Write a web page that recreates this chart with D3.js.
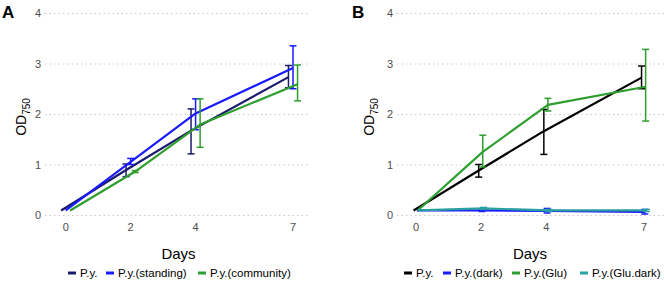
<!DOCTYPE html>
<html>
<head>
<meta charset="utf-8">
<script src="https://cdn.jsdelivr.net/npm/d3@7"></script>
<style>
  body{margin:0;background:#fff;}
  svg text{font-family:"Liberation Sans",Arial,sans-serif;}
</style>
</head>
<body>
<svg id="chart" width="664" height="281"></svg>
<script>
/* ----- data ------------------------------------------------- */
const days = [0, 2, 4, 7];
const yTicks = [0, 1, 2, 3, 4];

// panel A
const seriesA = ['P.y.', 'P.y.(standing)', 'P.y.(community)'];
const meanA = [
  [0.10, 0.90, 1.68, 2.74],
  [0.10, 1.06, 2.02, 2.92],
  [0.10, 0.87, 1.80, 2.60]
];
const lowA = [
  [0.10, 0.77, 1.22, 2.53],
  [0.10, 1.01, 1.70, 2.51],
  [0.10, 0.85, 1.35, 2.27]
];
const highA = [
  [0.10, 1.02, 2.11, 2.97],
  [0.10, 1.13, 2.31, 3.36],
  [0.10, 0.89, 2.31, 2.98]
];

// panel B
const seriesB = ['P.y.', 'P.y.(dark)', 'P.y.(Glu)', 'P.y.(Glu.dark)'];
const meanB = [
  [0.10, 0.89, 1.67, 2.73],
  [0.10, 0.10, 0.09, 0.07],
  [0.10, 1.26, 2.19, 2.55],
  [0.10, 0.14, 0.10, 0.10]
];
const lowB = [
  [0.10, 0.76, 1.21, 2.51],
  [0.10, 0.08, 0.05, 0.03],
  [0.10, 0.96, 2.07, 1.87],
  [0.10, 0.12, 0.08, 0.08]
];
const highB = [
  [0.10, 1.01, 2.10, 2.96],
  [0.10, 0.12, 0.14, 0.12],
  [0.10, 1.59, 2.32, 3.29],
  [0.10, 0.16, 0.12, 0.12]
];

/* ----- helpers ---------------------------------------------- */
const svg = d3.select('#chart');

function drawPanel(o){
  const g = svg.append('g').attr('transform', `translate(${o.ox},0)`);
  const x = d3.scaleLinear().domain([0, 7]).range([o.x0, o.x7]);
  const y = d3.scaleLinear().domain([0, 4]).range([215.5, 13.5]);
  const dodge = o.dodge;   // offset in days per series

  /* grid */
  g.selectAll('.grid').data(yTicks).join('line')
    .attr('x1', o.gx0).attr('x2', o.gx1)
    .attr('y1', d => y(d)).attr('y2', d => y(d))
    .attr('stroke', '#c8c8c8').attr('stroke-width', 1)
    .attr('stroke-dasharray', '1.5,3');

  /* y tick labels */
  g.selectAll('.yt').data(yTicks).join('text')
    .attr('x', o.gx0 - 4).attr('y', d => y(d)).attr('dy', '0.35em')
    .attr('text-anchor', 'end')
    .style('font-size', '11px').style('fill', '#4d4d4d')
    .text(d => d);

  /* x tick labels */
  g.selectAll('.xt').data(days).join('text')
    .attr('x', d => x(d)).attr('y', 231)
    .attr('text-anchor', 'middle')
    .style('font-size', '11px').style('fill', '#4d4d4d')
    .text(d => d);

  /* axis titles */
  g.append('text')
    .attr('x', (o.gx0 + o.gx1) / 2 + o.titleShift).attr('y', 259)
    .attr('text-anchor', 'middle')
    .style('font-size', '15px').style('fill', '#000')
    .text('Days');

  const yl = g.append('text')
    .attr('transform', `translate(${o.ylx},117) rotate(-90)`)
    .attr('text-anchor', 'middle')
    .style('font-size', '14px').style('fill', '#000');
  yl.append('tspan').text('OD');
  yl.append('tspan').attr('dy', 4).style('font-size', '10px').text('750');

  /* panel letter */
  g.append('text')
    .attr('x', o.lx).attr('y', 18)
    .style('font-size', '17px').style('font-weight', 'bold')
    .text(o.letter);

  /* series */
  const line = d3.line().x(d => x(d.day)).y(d => y(d.v));
  o.names.forEach((name, i) => {
    const pts = days.map((d, j) => ({
      day: d + dodge[i], v: o.mean[i][j], lo: o.low[i][j], hi: o.high[i][j]
    }));
    const sg = g.append('g');
    sg.append('path').datum(pts)
      .attr('d', line).attr('fill', 'none')
      .attr('stroke', o.colors[i]).attr('stroke-width', 2.2)
      .attr('stroke-linejoin', 'round');
    const eb = sg.selectAll('.eb').data(pts.filter(p => p.hi - p.lo > 0.001)).join('g')
      .attr('stroke', o.colors[i]).attr('stroke-width', 1.5);
    eb.append('line')
      .attr('x1', d => x(d.day)).attr('x2', d => x(d.day))
      .attr('y1', d => y(d.lo)).attr('y2', d => y(d.hi));
    eb.append('line')
      .attr('x1', d => x(d.day) - 3.5).attr('x2', d => x(d.day) + 3.5)
      .attr('y1', d => y(d.lo)).attr('y2', d => y(d.lo));
    eb.append('line')
      .attr('x1', d => x(d.day) - 3.5).attr('x2', d => x(d.day) + 3.5)
      .attr('y1', d => y(d.hi)).attr('y2', d => y(d.hi));
  });

  /* legend */
  const lg = g.append('g').attr('transform', 'translate(0,277)');
  o.names.forEach((name, i) => {
    const kx = o.legendX[i];
    lg.append('line')
      .attr('x1', kx).attr('x2', kx + 8).attr('y1', -4).attr('y2', -4)
      .attr('stroke', o.colors[i]).attr('stroke-width', 3);
    lg.append('text')
      .attr('x', kx + 12).attr('y', 0)
      .style('font-size', '11.5px').style('fill', '#000')
      .text(name);
  });
}

drawPanel({
  ox: 0, letter: 'A', lx: 2, ylx: 26,
  x0: 65.7, x7: 293, gx0: 45, gx1: 310, titleShift: 1,
  names: seriesA, mean: meanA, low: lowA, high: highA,
  colors: ['#1b1b6b', '#1a1aff', '#2e9e2e'],
  dodge: [-0.14, 0, 0.14],
  legendX: [68, 106, 198]
});

drawPanel({
  ox: 332, letter: 'B', lx: 20, ylx: 42,
  x0: 84, x7: 312, gx0: 65, gx1: 332, titleShift: -0.5,
  names: seriesB, mean: meanB, low: lowB, high: highB,
  colors: ['#000000', '#1a1aff', '#2e9e2e', '#2aa0a0'],
  dodge: [-0.075, 0.025, 0.05, 0.075],
  legendX: [72, 111, 180, 248]
});
</script>
</body>
</html>
